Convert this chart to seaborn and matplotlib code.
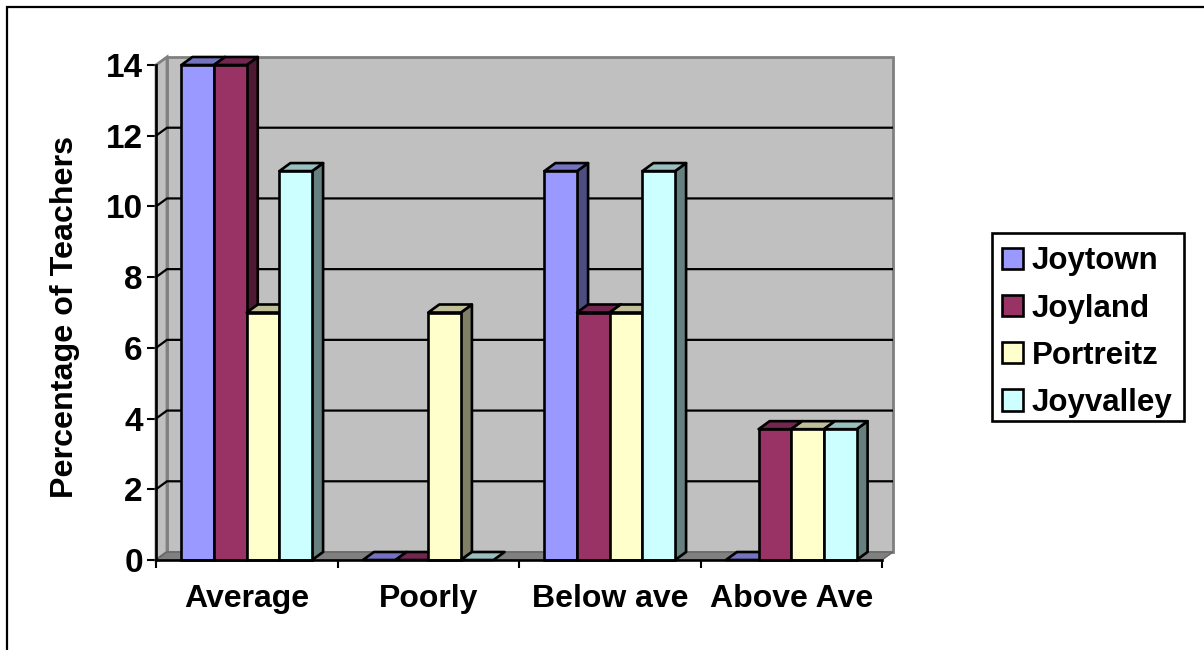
import matplotlib
matplotlib.use("Agg")
import matplotlib.pyplot as plt
from matplotlib.lines import Line2D
from matplotlib.patches import Polygon, Rectangle
from matplotlib.transforms import offset_copy
import numpy as np
import pandas as pd
import seaborn as sns

categories = ["Average", "Poorly", "Below ave", "Above Ave"]
joytown = [14, 0, 11, 0]
joyland = [14, 0, 7, 3.7]
portreitz = [7, 7, 7, 3.7]
joyvalley = [11, 0, 11, 3.7]
series_names = ["Joytown", "Joyland", "Portreitz", "Joyvalley"]
front_colors = ["#9999FF", "#993366", "#FFFFCC", "#CCFFFF"]
top_colors = ["#7373BF", "#732650", "#BFBF99", "#99BFBF"]
side_colors = ["#4D4D80", "#4D1933", "#808066", "#668080"]
y_ticks = [0, 2, 4, 6, 8, 10, 12, 14]

W, H = 1204, 650
DX, DY = 11, 8  # depth of the 3D box in pixels
FONT = "Liberation Sans"
EDGE = 1.9

sns.set_theme(style="white")
plt.rcParams["font.family"] = [FONT, "DejaVu Sans"]
plt.rcParams["text.color"] = "black"
plt.rcParams["axes.labelcolor"] = "black"
plt.rcParams["xtick.color"] = "black"
plt.rcParams["ytick.color"] = "black"

fig = plt.figure(figsize=(W / 100, H / 100), dpi=100, facecolor="white")

# outer frame: only the top and left edges fall inside the canvas
fig.add_artist(Line2D([7 / W, 7 / W, 1], [0, 1 - 7 / H, 1 - 7 / H], transform=fig.transFigure,
                      color="black", lw=1.6, solid_joinstyle="miter"))

ax = fig.add_axes([156 / W, 1 - 560 / H, (882 - 156) / W, (560 - 65) / H])
ax.patch.set_visible(False)

df = pd.DataFrame({"category": categories, "Joytown": joytown, "Joyland": joyland,
                   "Portreitz": portreitz, "Joyvalley": joyvalley})
long = df.melt("category", var_name="school", value_name="pct")
sns.barplot(data=long, x="category", y="pct", hue="school", hue_order=series_names,
            order=categories, palette=front_colors, width=0.72, gap=0, saturation=1,
            edgecolor="black", linewidth=EDGE, ax=ax, legend=False)

ax.set_xlim(-0.5, 3.5)
ax.set_ylim(0, 14)
back = offset_copy(ax.transData, fig=fig, x=DX, y=DY, units="dots")
t = ax.transData
inv = t.inverted()

# back wall, side wall and floor of the box
ax.add_patch(Polygon([(-0.5, 0), (3.5, 0), (3.5, 14), (-0.5, 14)], transform=back,
                     fc="#C0C0C0", ec="#808080", lw=2, zorder=1, clip_on=False))
side_pts = [t.transform((-0.5, 0)), back.transform((-0.5, 0)), back.transform((-0.5, 14)), t.transform((-0.5, 14))]
ax.add_patch(Polygon(inv.transform(side_pts), transform=t, fc="#C0C0C0", ec="#808080", lw=2,
                     zorder=1, clip_on=False))
floor_pts = [t.transform((-0.5, 0)), t.transform((3.5, 0)), back.transform((3.5, 0)), back.transform((-0.5, 0))]
ax.add_patch(Polygon(inv.transform(floor_pts), transform=t, fc="#808080", ec="#666666", lw=1,
                     zorder=1.1, clip_on=False))

# gridlines run along the back wall and down the side wall
for v in y_ticks[1:-1]:
    a, b, c = t.transform((-0.5, v)), back.transform((-0.5, v)), back.transform((3.5, v))
    ax.plot(*inv.transform([a, b, c]).T, color="black", lw=1.6, zorder=1.5, clip_on=False,
            solid_capstyle="butt")

# extrude every bar, left to right so nearer faces hide the ones they overlap
bars = [p for p in ax.patches if isinstance(p, Rectangle)]
z = 2.0
order = sorted(range(len(bars)), key=lambda i: bars[i].get_x())
for i in order:
    bar = bars[i]
    series = i // len(categories)
    x0, x1, h = bar.get_x(), bar.get_x() + bar.get_width(), bar.get_height()
    fl, fr = t.transform((x0, h)), t.transform((x1, h))
    br0, bl = t.transform((x1, 0)), back.transform((x0, h))
    tr = back.transform((x1, h))
    bb = back.transform((x1, 0))
    if h > 0:
        ax.add_patch(Polygon(inv.transform([br0, bb, tr, fr]), transform=t, fc=side_colors[series],
                             ec="black", lw=EDGE, zorder=z, clip_on=False, joinstyle="round"))
    ax.add_patch(Polygon(inv.transform([fl, fr, tr, bl]), transform=t, fc=top_colors[series],
                         ec="black", lw=EDGE, zorder=z + 0.1, clip_on=False, joinstyle="round"))
    bar.set_zorder(z + 0.2)
    bar.set_clip_on(False)
    bar.set_visible(h > 0)
    z += 0.3

for s in ["top", "right"]:
    ax.spines[s].set_visible(False)
for s in ["left", "bottom"]:
    ax.spines[s].set_linewidth(EDGE)
    ax.spines[s].set_color("black")
    ax.spines[s].set_zorder(50)

ax.set_yticks(y_ticks)
ax.set_xticks(np.arange(-0.5, 4, 1), minor=False)
ax.set_xticklabels([])
ax.set_xticks(np.arange(4), labels=categories, minor=True)
ax.tick_params(axis="x", which="major", length=5.8, width=1.5, bottom=True)
ax.tick_params(axis="x", which="minor", length=0, pad=17.5)
ax.tick_params(axis="y", length=6.5, width=1.5, left=True, pad=3)
for lab in ax.get_xticklabels(minor=True):
    lab.set_fontweight("bold")
    lab.set_fontsize(23)
for lab in ax.get_yticklabels():
    lab.set_fontweight("bold")
    lab.set_fontsize(24)
ax.set_xlabel("")
ax.set_ylabel("Percentage of Teachers", fontsize=23.2, fontweight="bold")
ax.yaxis.set_label_coords((80 - 156) / 726, (560 - 317) / 495)

# legend: frame drawn separately so the entries can sit centred inside it
fig.add_artist(Rectangle((992 / W, 1 - 421 / H), 192 / W, 188 / H, transform=fig.transFigure,
                         fc="white", ec="black", lw=EDGE))
handles = [Rectangle((0, 0), 1, 1, fc=c, ec="black", lw=EDGE) for c in front_colors]
leg = fig.legend(handles, series_names, loc="upper left", bbox_to_anchor=(992 / W, 1 - 236 / H),
                 borderaxespad=0, frameon=False,
                 prop={"family": FONT, "weight": "bold", "size": 22.5}, handlelength=0.67, handleheight=0.67,
                 handletextpad=0.28, labelspacing=0.55, borderpad=0.33, labelcolor="black")
leg.set_zorder(5)

fig.savefig("out.png", dpi=100, facecolor="white")
